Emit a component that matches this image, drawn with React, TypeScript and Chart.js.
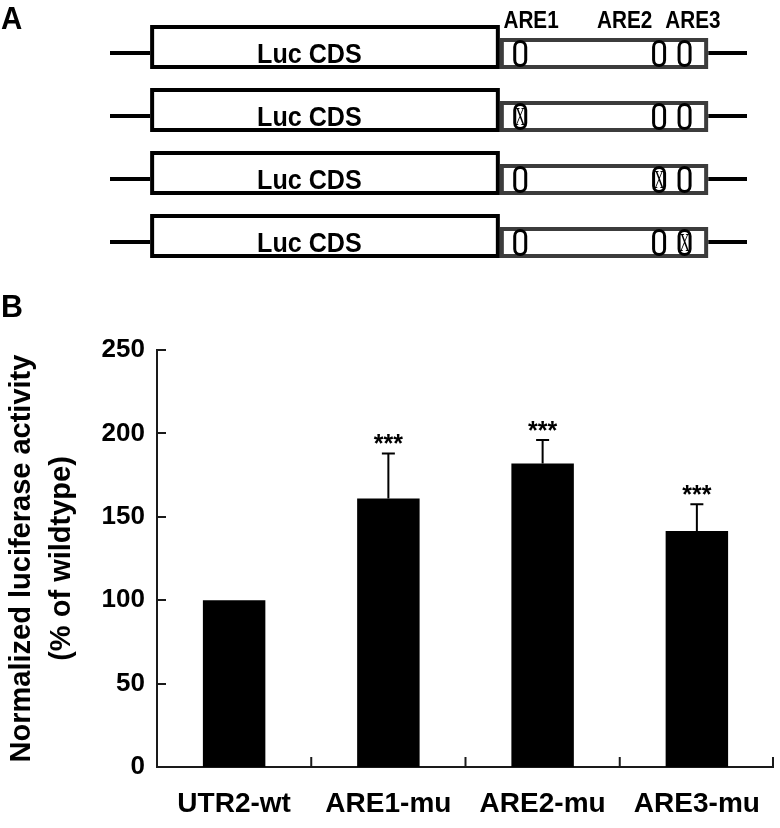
import React, { useEffect, useRef } from 'react';
import { Chart, registerables } from 'chart.js';

Chart.register(...registerables);

// ---------- Panel B data ----------
const categories = ['UTR2-wt', 'ARE1-mu', 'ARE2-mu', 'ARE3-mu'];
const activity = [100, 161, 182, 141.5];
const errorUp = [0, 27, 14, 16];
const significance = ['', '***', '***', '***'];
const yTicks = [0, 50, 100, 150, 200, 250];
const yTitle = ['Normalized luciferase activity', '(% of wildtype)'];

// ---------- Panel A data (construct map, 0 = start of 5' flank, 100 = end of 3' flank) ----------
const constructs = ['UTR2-wt', 'ARE1-mu', 'ARE2-mu', 'ARE3-mu'];
const mutatedAre = [-1, 0, 1, 2];
const areNames = ['ARE1', 'ARE2', 'ARE3'];
const arePositions = [64.4, 86.2, 90.2];
const areLabelPositions = [66.1, 80.8, 91.5];
const regionBounds = [0, 6.3, 61.2, 93.9, 100]; // flank | Luc CDS | 3'UTR | flank
const cdsLabel = 'Luc CDS';
const cdsLabelPosition = 31.3;

const FONT = '"Liberation Sans", Arial, Helvetica, sans-serif';
Chart.defaults.font.family = FONT;

const A_HEIGHT = 285;
const B_HEIGHT = 828 - A_HEIGHT;

function condensedText(ctx: CanvasRenderingContext2D, text: string, x: number, y: number, sx: number) {
  ctx.save();
  ctx.translate(x, y);
  ctx.scale(sx, 1);
  ctx.fillText(text, 0, 0);
  ctx.restore();
}

const constructPlugin = {
  id: 'constructs',
  afterDraw(chart: any) {
    const ctx = chart.ctx as CanvasRenderingContext2D;
    const xs = chart.scales.x;
    const ys = chart.scales.y;
    const px = (v: number) => xs.getPixelForValue(v);
    ctx.save();
    // panel letter
    ctx.fillStyle = '#000';
    ctx.font = `bold 32px ${FONT}`;
    ctx.textAlign = 'left';
    ctx.textBaseline = 'alphabetic';
    condensedText(ctx, 'A', 1, 29, 0.92);

    // ARE labels
    ctx.font = `bold 23px ${FONT}`;
    ctx.textAlign = 'center';
    areNames.forEach((n, j) => condensedText(ctx, n, px(areLabelPositions[j]), 27.5, 0.9));

    constructs.forEach((_, i) => {
      const L = ys.getPixelForValue(i);
      // flanks
      ctx.strokeStyle = '#000';
      ctx.lineWidth = 4;
      ctx.beginPath();
      ctx.moveTo(px(regionBounds[0]), L);
      ctx.lineTo(px(regionBounds[1]), L);
      ctx.moveTo(px(regionBounds[3]), L);
      ctx.lineTo(px(regionBounds[4]), L);
      ctx.stroke();
      // 3'UTR box
      ctx.fillStyle = '#fff';
      ctx.strokeStyle = '#3c3c3c';
      ctx.lineWidth = 4;
      const ux0 = px(regionBounds[2]);
      const ux1 = px(regionBounds[3]);
      ctx.fillRect(ux0, L - 15, ux1 - ux0, 31);
      ctx.strokeRect(ux0 + 2, L - 13, ux1 - ux0 - 4, 27);
      // Luc box
      const lx0 = px(regionBounds[1]);
      const lx1 = px(regionBounds[2]);
      ctx.fillStyle = '#fff';
      ctx.fillRect(lx0, L - 28, lx1 - lx0, 44);
      ctx.strokeStyle = '#000';
      ctx.strokeRect(lx0 + 2, L - 26, lx1 - lx0 - 4, 40);
      // CDS label
      ctx.fillStyle = '#000';
      ctx.font = `bold 27px ${FONT}`;
      ctx.textAlign = 'center';
      condensedText(ctx, cdsLabel, px(cdsLabelPosition), L + 9.5, 0.93);
      // AREs
      arePositions.forEach((p, j) => {
        const cx = px(p);
        const w = 11, h = 24, r = 5.5;
        ctx.beginPath();
        ctx.roundRect(cx - w / 2, L + 0.5 - h / 2, w, h, r);
        ctx.fillStyle = '#fff';
        ctx.fill();
        ctx.lineWidth = 3;
        ctx.strokeStyle = '#000';
        ctx.stroke();
        if (mutatedAre[i] === j) {
          ctx.fillStyle = '#000';
          ctx.font = `26px "Liberation Serif", "Times New Roman", serif`;
          ctx.textAlign = 'center';
          ctx.textBaseline = 'alphabetic';
          condensedText(ctx, 'X', cx, L + 9, 0.55);
        }
      });
    });
    ctx.restore();
  },
};

const decorPlugin = {
  id: 'decor',
  afterDraw(chart: any) {
    const ctx = chart.ctx as CanvasRenderingContext2D;
    const ys = chart.scales.y;
    const area = chart.chartArea;
    ctx.save();
    ctx.fillStyle = '#000';
    ctx.font = `bold 32px ${FONT}`;
    ctx.textAlign = 'left';
    condensedText(ctx, 'B', 1, 32, 0.95);

    ctx.strokeStyle = '#1a1a1a';
    ctx.lineWidth = 2;
    ctx.beginPath();
    yTicks.forEach((v) => {
      const y = Math.round(ys.getPixelForValue(v));
      ctx.moveTo(area.left, y);
      ctx.lineTo(area.left + 9, y);
    });
    const step = area.width / categories.length;
    for (let k = 1; k <= categories.length; k++) {
      const x = area.left + step * k - (k === categories.length ? 1 : 0);
      ctx.moveTo(x, area.bottom);
      ctx.lineTo(x, area.bottom - 10);
    }
    ctx.stroke();

    // error bars + significance
    const meta = chart.getDatasetMeta(0);
    meta.data.forEach((bar: any, i: number) => {
      const x = bar.x;
      const yTop = ys.getPixelForValue(activity[i] + errorUp[i]);
      const yVal = ys.getPixelForValue(activity[i]);
      if (errorUp[i] > 0) {
        ctx.strokeStyle = '#000';
        ctx.lineWidth = 2;
        ctx.beginPath();
        ctx.moveTo(x, yVal);
        ctx.lineTo(x, yTop);
        ctx.moveTo(x - 6.5, yTop);
        ctx.lineTo(x + 6.5, yTop);
        ctx.stroke();
      }
      if (significance[i]) {
        ctx.fillStyle = '#000';
        ctx.font = `bold 25px ${FONT}`;
        ctx.textAlign = 'center';
        ctx.textBaseline = 'alphabetic';
        ctx.fillText(significance[i], x, yTop - 1);
      }
    });
    ctx.restore();
  },
};

export default function App() {
  const aRef = useRef<HTMLCanvasElement>(null);
  const bRef = useRef<HTMLCanvasElement>(null);

  useEffect(() => {
    const chartA = new Chart(aRef.current!, {
      type: 'scatter',
      data: { labels: constructs, datasets: [] },
      options: {
        responsive: false,
        animation: false,
        events: [],
        layout: { padding: { left: 110, right: 33, top: 53, bottom: A_HEIGHT - 242 } },
        plugins: { legend: { display: false }, tooltip: { enabled: false } },
        scales: {
          x: { type: 'linear', min: 0, max: 100, display: false },
          y: { type: 'category', labels: constructs, display: false, offset: false },
        },
      },
      plugins: [constructPlugin],
    } as any);

    const chartB = new Chart(bRef.current!, {
      type: 'bar',
      data: {
        labels: categories,
        datasets: [
          {
            data: activity,
            backgroundColor: '#000',
            borderWidth: 0,
            barPercentage: 0.405,
            categoryPercentage: 1,
          },
        ],
      },
      options: {
        responsive: false,
        animation: false,
        events: [],
        layout: { padding: { left: 0, right: 1, top: 350 - A_HEIGHT, bottom: 0 } },
        plugins: { legend: { display: false }, tooltip: { enabled: false } },
        scales: {
          x: {
            grid: { display: false, drawTicks: false },
            border: { display: true, color: '#1a1a1a', width: 2 },
            ticks: { color: '#000', font: { size: 28, weight: 'bold' }, padding: 20 },
            afterFit: (s: any) => {
              s.height = 828 - 767;
            },
          },
          y: {
            min: 0,
            max: 250,
            grid: { display: false, drawTicks: false },
            border: { display: true, color: '#1a1a1a', width: 2 },
            afterBuildTicks: (s: any) => {
              s.ticks = yTicks.map((v) => ({ value: v }));
            },
            ticks: { color: '#000', font: { size: 26, weight: 'bold' }, padding: 12 },
            title: {
              display: true,
              text: yTitle,
              color: '#000',
              font: { size: 29, weight: 'bold', lineHeight: 1.38 },
              padding: { top: 2, bottom: 0 },
            },
            afterFit: (s: any) => {
              s.width = 157;
            },
          },
        },
      },
      plugins: [decorPlugin],
    } as any);

    return () => {
      chartA.destroy();
      chartB.destroy();
    };
  }, []);

  return (
    <div style={{ position: 'absolute', left: 0, top: 0, width: 780, height: 828, background: '#fff' }}>
      <canvas
        ref={aRef}
        width={780}
        height={A_HEIGHT}
        style={{ position: 'absolute', left: 0, top: 0, width: 780, height: A_HEIGHT, display: 'block' }}
      />
      <canvas
        ref={bRef}
        width={780}
        height={B_HEIGHT}
        style={{ position: 'absolute', left: 0, top: A_HEIGHT, width: 780, height: B_HEIGHT, display: 'block' }}
      />
    </div>
  );
}
